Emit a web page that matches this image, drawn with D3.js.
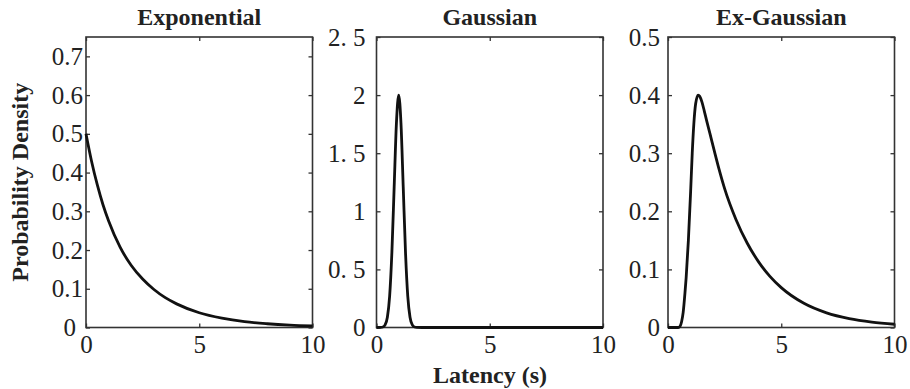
<!DOCTYPE html>
<html><head><meta charset="utf-8">
<script src="https://cdn.jsdelivr.net/npm/d3@7"></script>
<style>
body{margin:0;background:#fff}
svg{display:block}
text{font-family:"Liberation Serif","Times New Roman",serif;fill:#222}
</style>
</head><body>
<svg id="c" width="910" height="389"></svg>
<script>
// ---- data ----
const xTicks = [0, 5, 10];
const xTickLabels = ["0", "5", "10"];

const expX = [0, 0.25, 0.5, 0.75, 1, 1.5, 2, 2.5, 3, 3.5, 4, 5, 6, 7, 8, 9, 10];
const expY = [0.5, 0.428, 0.368, 0.317, 0.275, 0.208, 0.160, 0.125, 0.098, 0.077, 0.061, 0.038, 0.024, 0.015, 0.0097, 0.0061, 0.0039];
const expTicks = [0, 0.1, 0.2, 0.3, 0.4, 0.5, 0.6, 0.7];
const expLabels = ["0", "0.1", "0.2", "0.3", "0.4", "0.5", "0.6", "0.7"];

const gaussX = [0, 0.18, 0.28, 0.38, 0.48, 0.58, 0.68, 0.78, 0.88, 0.98, 1.08, 1.18, 1.28, 1.38, 1.48, 1.58, 1.68, 1.78, 2, 10];
const gaussY = [0, 0.001, 0.004, 0.022, 0.088, 0.27, 0.65, 1.21, 1.76, 2.0, 1.76, 1.21, 0.65, 0.27, 0.088, 0.022, 0.004, 0.001, 0, 0];
const gaussTicks = [0, 0.5, 1, 1.5, 2, 2.5];
const gaussLabels = ["0", "0. 5", "1", "1. 5", "2", "2. 5"];

const exgX = [0, 0.45, 0.53, 0.6, 0.67, 0.75, 0.8, 0.9, 1.0, 1.07, 1.14, 1.22, 1.33, 1.4, 1.5, 1.6, 1.7, 1.85, 2.05, 2.25, 2.5, 3, 3.5, 4, 4.5, 5, 6, 7, 8, 9, 10];
const exgY = [0, 0, 0.002, 0.01, 0.026, 0.06, 0.085, 0.15, 0.235, 0.30, 0.35, 0.385, 0.40, 0.398, 0.388, 0.373, 0.357, 0.334, 0.303, 0.273, 0.239, 0.186, 0.145, 0.113, 0.088, 0.0686, 0.0416, 0.0252, 0.0153, 0.0093, 0.0056];
const exgTicks = [0, 0.1, 0.2, 0.3, 0.4, 0.5];
const exgLabels = ["0", "0.1", "0.2", "0.3", "0.4", "0.5"];

// ---- layout ----
const plotTop = 37, plotBottom = 327.5, pw = 226.5;
const panels = [
  {title: "Exponential", xs: expX, ys: expY, yMax: 0.75, ticks: expTicks, labels: expLabels, left: 86, gap: 3, zeroGap: 10},
  {title: "Gaussian", xs: gaussX, ys: gaussY, yMax: 2.5, ticks: gaussTicks, labels: gaussLabels, left: 376.5, gap: 11, zeroGap: 11},
  {title: "Ex-Gaussian", xs: exgX, ys: exgY, yMax: 0.5, ticks: exgTicks, labels: exgLabels, left: 668, gap: 8, zeroGap: 8}
];

const svg = d3.select("#c");
const h = plotBottom - plotTop;
const tickLen = 4;
const axisColor = "#333";
const tickFont = "25px";

panels.forEach(p => {
  const g = svg.append("g").attr("transform", `translate(${p.left},${plotTop})`);
  const x = d3.scaleLinear().domain([0, 10]).range([0, pw]);
  const y = d3.scaleLinear().domain([0, p.yMax]).range([h, 0]);

  const gb = g.append("g").attr("transform", `translate(0,${h})`)
    .call(d3.axisBottom(x).tickValues(xTicks).tickFormat((d, i) => xTickLabels[i]).tickSizeInner(-tickLen).tickSizeOuter(0));
  gb.selectAll("text").attr("y", 25).attr("dy", 0).style("font-size", tickFont);
  const gt = g.append("g")
    .call(d3.axisTop(x).tickValues(xTicks).tickFormat("").tickSizeInner(-tickLen).tickSizeOuter(0));
  const gl = g.append("g")
    .call(d3.axisLeft(y).tickValues(p.ticks).tickFormat((d, i) => p.labels[i]).tickSizeInner(-tickLen).tickSizeOuter(0).tickPadding(p.gap));
  gl.selectAll("text").style("font-size", tickFont).filter(d => d === 0).attr("x", -p.zeroGap);
  const gr = g.append("g").attr("transform", `translate(${pw},0)`)
    .call(d3.axisRight(y).tickValues(p.ticks).tickFormat("").tickSizeInner(-tickLen).tickSizeOuter(0));
  [gb, gt, gl, gr].forEach(a => {
    a.select(".domain").remove();
    a.selectAll("line").attr("stroke", axisColor).attr("stroke-width", 1.3);
    a.selectAll("text").attr("fill", "#222").style("font-family", '"Liberation Serif","Times New Roman",serif');
  });

  g.append("rect").attr("x", 0).attr("y", 0).attr("width", pw).attr("height", h)
    .attr("fill", "none").attr("stroke", axisColor).attr("stroke-width", 1.6);

  const pts = p.xs.map((v, i) => [v, p.ys[i]]);
  g.append("path").datum(pts)
    .attr("d", d3.line().x(d => x(d[0])).y(d => y(d[1])).curve(d3.curveMonotoneX))
    .attr("fill", "none").attr("stroke", "#111").attr("stroke-width", 2.8)
    .attr("stroke-linejoin", "round");

  svg.append("text").attr("x", p.left + pw / 2).attr("y", 25)
    .attr("text-anchor", "middle").style("font-size", "24px").style("font-weight", "bold")
    .text(p.title);
});

svg.append("text").attr("x", 490).attr("y", 383).attr("text-anchor", "middle")
  .style("font-size", "24px").style("font-weight", "bold").text("Latency (s)");
svg.append("text").attr("transform", `translate(28,${(plotTop + plotBottom) / 2}) rotate(-90)`)
  .attr("text-anchor", "middle").style("font-size", "24px").style("font-weight", "bold")
  .text("Probability Density");
</script>
</body></html>
